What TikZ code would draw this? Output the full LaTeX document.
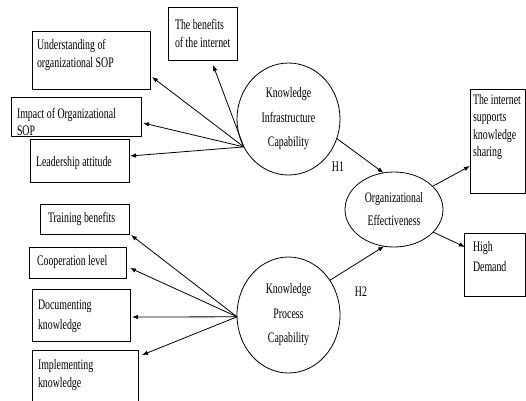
\documentclass[tikz,border=0pt]{standalone}
\usepackage{fontspec}
\setmainfont{Liberation Serif}[FakeStretch=0.68]
\usetikzlibrary{arrows.meta,shapes.geometric}
\begin{document}
\begin{tikzpicture}[x=1pt,y=-1pt,
  box/.style={draw, line width=0.8pt, inner sep=0pt, outer sep=0pt, anchor=north west},
  txt/.style={inner sep=0pt, outer sep=0pt, anchor=north west, align=left, font=\fontsize{14.5}{18}\selectfont},
  ell/.style={draw, ellipse, line width=0.8pt, inner sep=0pt, outer sep=0pt, align=center, font=\fontsize{14.5}{24.5}\selectfont},
  arr/.style={line width=0.8pt, -{Latex[length=6pt,width=4.5pt]}},
  hlab/.style={inner sep=0pt, font=\fontsize{14.5}{18}\selectfont}]
\useasboundingbox (0,0) rectangle (526,400);
\fill[white] (0,0) rectangle (526,400);
% boxes
\node[box, minimum width=69pt, minimum height=53pt] (ben) at (168,7) {};
\node[box, minimum width=118pt, minimum height=58pt] (und) at (32,31) {};
\node[box, minimum width=130pt, minimum height=39pt] (imp) at (11,97) {};
\node[box, minimum width=99pt, minimum height=43pt] (lea) at (30,139) {};
\node[box, minimum width=89pt, minimum height=30pt] (tra) at (40,204) {};
\node[box, minimum width=97pt, minimum height=31pt] (coo) at (29,247) {};
\node[box, minimum width=98pt, minimum height=52pt] (doc) at (32,289) {};
\node[box, minimum width=106pt, minimum height=60pt] (imq) at (32,350) {};
\node[box, minimum width=55pt, minimum height=104pt] (net) at (470,89) {};
\node[box, minimum width=61pt, minimum height=63pt] (hig) at (464,233) {};
% box texts
\node[txt] (tben) at (175,19.5) {The benefits\\of the internet};
\node[txt] (tund) at (37,39.5) {Understanding of\\organizational SOP};
\node[txt, font=\fontsize{14.5}{16.5}\selectfont] (timp) at (17,108.5) {Impact of Organizational\\SOP};
\node[txt] (tlea) at (36,156.5) {Leadership attitude};
\node[txt] (ttra) at (48,212.5) {Training benefits};
\node[txt] (tcoo) at (37,255.5) {Cooperation level};
\node[txt, font=\fontsize{14.5}{20}\selectfont] (tdoc) at (38,299.5) {Documenting\\knowledge};
\node[txt] (timq) at (38,359.5) {Implementing\\knowledge};
\node[txt, font=\fontsize{14.5}{17.3}\selectfont] (tnet) at (473,94.5) {The internet\\supports\\knowledge\\sharing};
\node[txt, font=\fontsize{14.5}{20}\selectfont] (thig) at (473,241.5) {High\\Demand};
% ellipses
\node[ell, minimum width=103pt, minimum height=112pt] (kic) at (288.5,119) {Knowledge\\Infrastructure\\Capability};
\node[ell, minimum width=103pt, minimum height=116pt] (kpc) at (288.5,315) {Knowledge\\Process\\Capability};
\node[ell, minimum width=98pt, minimum height=75pt, font=\fontsize{14.5}{23}\selectfont] (oe) at (394,209.5) {Organizational\\Effectiveness};
% labels
\node[hlab] (h1) at (338,167) {H1};
\node[hlab] (h2) at (361,292) {H2};
% arrows from KIC
\draw[arr] (kic.212) -- ([xshift=10.5pt,yshift=-5pt]ben.south);
\draw[arr] (kic.212) -- ([xshift=2pt,yshift=12pt]und.south east);
\draw[arr] (kic.212) -- ([xshift=2pt,yshift=13pt]imp.south east);
\draw[arr] (kic.212) -- ([xshift=1pt,yshift=4.5pt]lea.east);
% arrows from KPC
\draw[arr] (kpc.182) -- ([xshift=2pt,yshift=-1pt]tra.south east);
\draw[arr] (kpc.182) -- ([xshift=4pt,yshift=-5.5pt]coo.east);
\draw[arr] (kpc.182) -- ([xshift=2pt,yshift=-2pt]doc.east);
\draw[arr] (kpc.182) -- ([xshift=4pt,yshift=-5pt]imq.north east);
% paths to OE
\draw[arr] (kic.-22) -- (oe.106);
\draw[arr] (kpc.40) -- (oe.-105);
\draw[arr] (oe.31) -- ([yshift=-25pt]net.west);
\draw[arr] (oe.-30) -- ([xshift=1pt,yshift=17.5pt]hig.west);
\end{tikzpicture}
\end{document}
